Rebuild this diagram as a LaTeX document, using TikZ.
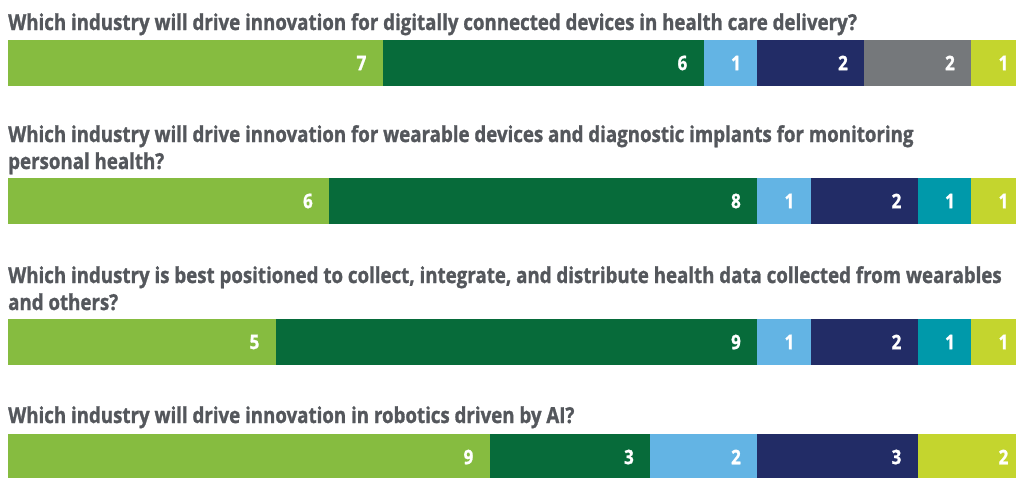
\documentclass[tikz,border=0pt]{standalone}
\usepackage{fontspec}
\setmainfont{Open Sans}[FakeStretch=0.85, BoldFeatures={FakeBold=1.2}]
\usetikzlibrary
  {
    positioning,              % place nodes relative to other nodes
    calc,
  }

\definecolor{qgray}{HTML}{54575C}
\definecolor{leaf}{HTML}{86BC40}
\definecolor{forest}{HTML}{076B3A}
\definecolor{sky}{HTML}{63B4E4}
\definecolor{navy}{HTML}{222C66}
\definecolor{slate}{HTML}{75787B}
\definecolor{teal}{HTML}{0099AA}
\definecolor{lime}{HTML}{C4D52E}

\tikzset{
  question/.style={anchor=base west, inner sep=0pt, text=qgray,
    font=\bfseries\fontsize{22}{27}\selectfont},
  tally/.style={anchor=east, inner sep=0pt, text=white,
    font=\bfseries\fontsize{20}{24}\selectfont},
}

% #1 = top of the bar, #2 = name, #3 = list of count/colour
\newcommand{\surveybar}[3]{%
  \foreach \val/\col [count=\i, remember=\segend as \segstart (initially 0)] in {#3} {
    \pgfmathsetmacro{\segend}{\segstart+\val}
    \fill[\col] ({8+53.5*\segstart},#1) rectangle ({8+53.5*\segend},#1+46);
    \node[tally] (#2-\i) at ({8+53.5*\segend-16},#1+23) {\val};
  }%
}

\begin{document}
\begin{tikzpicture}[x=1pt,y=-1pt]
    \useasboundingbox (0,0) rectangle (1016,477);
    \clip (0,0) rectangle (1016,477);

    \node[question] (q1) at (8,30)
      {Which industry will drive innovation for digitally connected devices in health care delivery?};
    \surveybar{40}{b1}{7/leaf, 6/forest, 1/sky, 2/navy, 2/slate, 1/lime}

    \node[question] (q2) at (8,142)
      {Which industry will drive innovation for wearable devices and diagnostic implants for monitoring};
    \node[question] (q2b) at ([yshift=-27pt]q2.base west) {personal health?};
    \surveybar{178}{b2}{6/leaf, 8/forest, 1/sky, 2/navy, 1/teal, 1/lime}

    \node[question] (q3) at (8,283)
      {Which industry is best positioned to collect, integrate, and distribute health data collected from wearables};
    \node[question] (q3b) at ([yshift=-27pt]q3.base west) {and others?};
    \surveybar{319}{b3}{5/leaf, 9/forest, 1/sky, 2/navy, 1/teal, 1/lime}

    \node[question] (q4) at (8,423)
      {Which industry will drive innovation in robotics driven by AI?};
    \surveybar{434}{b4}{9/leaf, 3/forest, 2/sky, 3/navy, 2/lime}
\end{tikzpicture}
\end{document}
